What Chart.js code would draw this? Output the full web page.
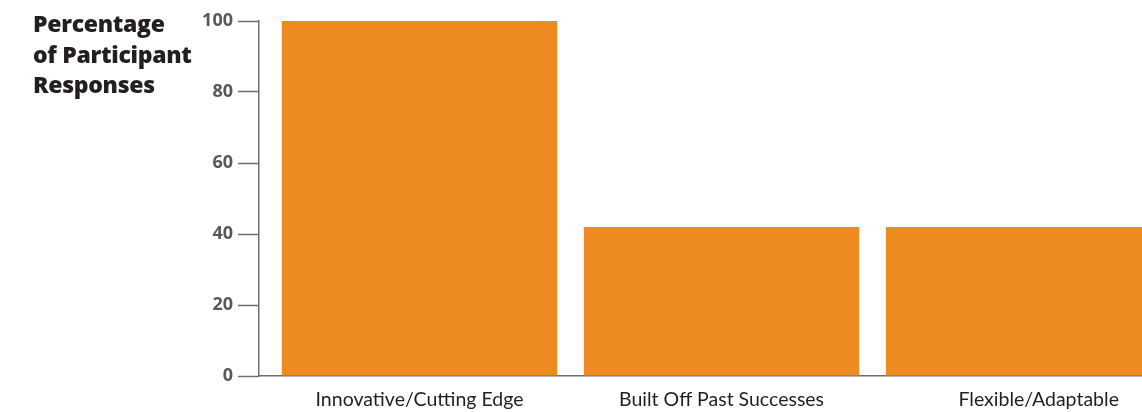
<!DOCTYPE html>
<html><head><meta charset="utf-8">
<script src="https://cdn.jsdelivr.net/npm/chart.js@4/dist/chart.umd.min.js"></script>
<style>
html,body{margin:0;padding:0;background:#fff;overflow:hidden;}
#wrap{position:relative;width:1142px;height:412px;}
#title{position:absolute;left:33px;top:8px;font:800 23px "Open Sans", sans-serif;line-height:30.5px;color:#231f20;letter-spacing:-0.3px;}
canvas{position:absolute;left:0;top:0;}
</style></head><body>
<div id="wrap"><canvas id="c" width="1142" height="412"></canvas><div id="title">Percentage<br>of Participant<br>Responses</div></div>
<script>
const categories = ["Innovative/Cutting Edge", "Built Off Past Successes", "Flexible/Adaptable"];
const values = [100, 42, 42];
const yTickValues = [0, 20, 40, 60, 80, 100];

const points = categories.map((c, i) => ({ x: i, y: values[i] }));
const axisColor = '#6d6e71';

new Chart(document.getElementById('c'), {
  type: 'bar',
  data: {
    datasets: [{
      data: points,
      backgroundColor: '#ED8B20',
      borderWidth: 0,
      barPercentage: 0.912,
      categoryPercentage: 1
    }]
  },
  options: {
    responsive: false,
    animation: false,
    devicePixelRatio: 1,
    layout: { padding: { top: 21, right: 0, bottom: 0, left: 0 } },
    plugins: { legend: { display: false }, tooltip: { enabled: false } },
    scales: {
      x: {
        type: 'linear',
        offset: false,
        min: -0.5315,
        max: 2.392,
        // last label sits a little right of its bar in the reference
        afterBuildTicks: s => { s.ticks = categories.map((c, i) => ({ value: i + (i === categories.length - 1 ? 0.05 : 0) })); },
        afterFit: s => { s.height = 36; },
        ticks: {
          callback: (v, idx) => categories[idx],
          font: { family: 'Lato', size: 19.5, weight: 'normal' },
          color: '#231f20',
          padding: 12,
          maxRotation: 0,
          autoSkip: false
        },
        grid: { display: false, drawTicks: false },
        border: { display: true, color: axisColor, width: 1.5 }
      },
      y: {
        min: 0,
        max: 100,
        afterBuildTicks: s => { s.ticks = yTickValues.map(v => ({ value: v })); },
        afterFit: s => { s.width = 259; },
        ticks: {
          font: { family: 'Open Sans', size: 18, weight: 'bold' },
          color: '#58595b',
          padding: 5
        },
        grid: {
          drawOnChartArea: false,
          drawTicks: true,
          tickLength: 21,
          tickColor: axisColor,
          tickWidth: 1.5
        },
        border: { display: true, color: axisColor, width: 1.5 }
      }
    }
  }
});
</script>
</body></html>
